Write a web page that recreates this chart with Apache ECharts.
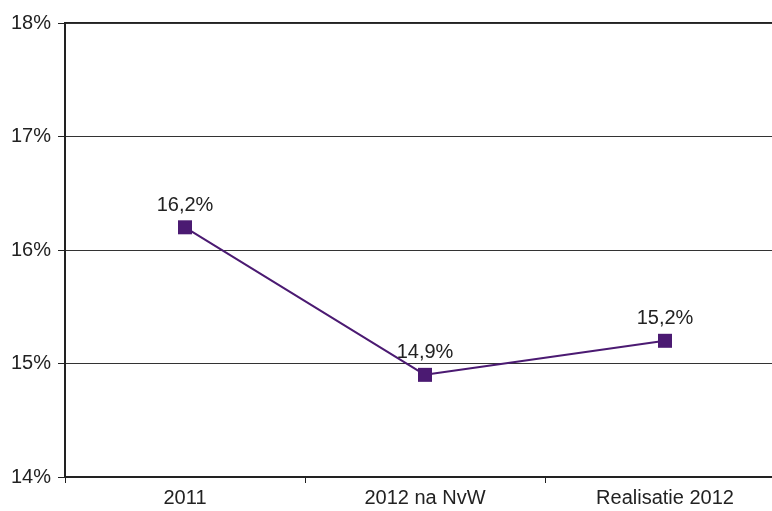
<!DOCTYPE html>
<html><head><meta charset="utf-8">
<script src="https://cdn.jsdelivr.net/npm/echarts@6/dist/echarts.min.js"></script>
<style>html,body{margin:0;padding:0;background:#fff}#c{width:772px;height:511px}</style>
</head><body><div id="c"></div>
<script>
const categories = ['2011', '2012 na NvW', 'Realisatie 2012'];
const values = [16.2, 14.9, 15.2];
const valueLabels = ['16,2%', '14,9%', '15,2%'];
const yMin = 14, yMax = 18, yStep = 1;
const FONT = '"Liberation Sans", Arial, sans-serif';

const chart = echarts.init(document.getElementById('c'), null, {renderer: 'canvas'});
chart.setOption({
  animation: false,
  backgroundColor: '#fff',
  grid: {left: 65, width: 720, top: 23, bottom: 34, outerBoundsMode: 'none', containLabel: false,
    show: true, borderColor: '#222', borderWidth: 2, backgroundColor: 'transparent'},
  xAxis: {
    type: 'category', data: categories, boundaryGap: true,
    axisLine: {lineStyle: {color: '#222', width: 2}},
    axisTick: {show: true, length: 6, lineStyle: {color: '#222', width: 1}},
    axisLabel: {color: '#222', fontSize: 20, fontFamily: FONT, margin: 11}
  },
  yAxis: {
    type: 'value', min: yMin, max: yMax, interval: yStep,
    axisLine: {show: true, lineStyle: {color: '#222', width: 2}},
    axisTick: {show: true, length: 7, lineStyle: {color: '#222', width: 1}},
    splitLine: {show: true, lineStyle: {color: '#333', width: 1}},
    axisLabel: {color: '#222', fontSize: 20, fontFamily: FONT, margin: 14, formatter: v => v + '%'}
  },
  series: [{
    type: 'line', data: values,
    symbol: 'rect', symbolSize: 14,
    itemStyle: {color: '#4b1a72'},
    lineStyle: {color: '#4b1a72', width: 2},
    label: {show: true, position: 'top', distance: 5, color: '#222', fontSize: 20,
      fontFamily: FONT,
      formatter: p => valueLabels[p.dataIndex]}
  }]
});
</script></body></html>
